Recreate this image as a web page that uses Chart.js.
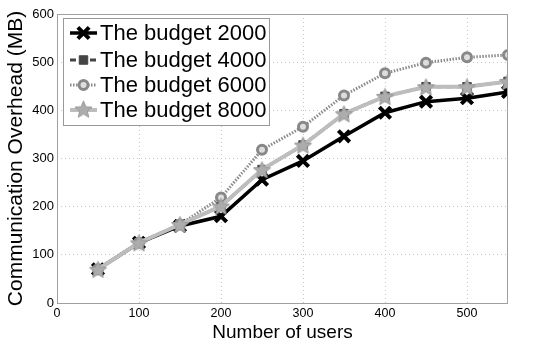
<!DOCTYPE html>
<html>
<head>
<meta charset="utf-8">
<script src="https://cdn.jsdelivr.net/npm/chart.js@4.4.0/dist/chart.umd.min.js"></script>
<style>
  html, body { margin: 0; padding: 0; background: #fff; }
  #wrap { width: 550px; height: 346px; }
</style>
</head>
<body>
<div id="wrap"><canvas id="myChart" width="550" height="346"></canvas></div>
<script>
var users = [50, 100, 150, 200, 250, 300, 350, 400, 450, 500, 550];
var budget2000 = [70, 125, 160, 180, 256, 295, 346, 395, 418, 425, 438];
var budget4000 = [70, 125, 163, 201, 277, 328, 393, 429, 449, 449, 460];
var budget6000 = [70, 125, 163, 219, 318, 366, 431, 477, 499, 510, 515];
var budget8000 = [70, 125, 163, 201, 277, 328, 393, 429, 449, 449, 460];
var seriesNames = ['The budget 2000', 'The budget 4000', 'The budget 6000', 'The budget 8000'];

// filled star marker
function makeStar(size, fill, edge) {
    var c = document.createElement('canvas');
    c.width = size; c.height = size;
    var g = c.getContext('2d');
    var cx = size / 2, cy = size / 2 + 1, R = size / 2 - 0.5, r = R * 0.45;
    g.beginPath();
    for (var i = 0; i < 10; i++) {
        var a = -Math.PI / 2 + i * Math.PI / 5;
        var rr = i % 2 === 0 ? R : r;
        g.lineTo(cx + rr * Math.cos(a), cy + rr * Math.sin(a));
    }
    g.closePath();
    g.fillStyle = fill;
    g.fill();
    g.lineWidth = 1;
    g.strokeStyle = edge;
    g.stroke();
    return c;
}
var star = makeStar(19, '#acacac', '#999999');

function pts(vals) {
    return vals.map(function (v, i) { return { x: users[i], y: v }; });
}

var datasets = [{
    label: seriesNames[0], data: pts(budget2000), order: 4,
    borderColor: '#000000', borderWidth: 3.5,
    pointStyle: 'crossRot', pointRadius: 8, pointBorderWidth: 4,
    pointBorderColor: '#000000', pointBackgroundColor: '#000000'
}, {
    label: seriesNames[1], data: pts(budget4000), order: 3,
    borderColor: '#444444', borderWidth: 3, borderDash: [6, 4],
    pointStyle: 'rect', pointRadius: 6, pointBorderWidth: 1,
    pointBorderColor: '#444444', pointBackgroundColor: '#444444'
}, {
    label: seriesNames[2], data: pts(budget6000), order: 2,
    borderColor: '#8a8a8a', borderWidth: 3, borderDash: [1.5, 1.5],
    pointStyle: 'circle', pointRadius: 4.5, pointBorderWidth: 3,
    pointBorderColor: '#888888', pointBackgroundColor: '#dddddd'
}, {
    label: seriesNames[3], data: pts(budget8000), order: 1,
    borderColor: '#bdbdbd', borderWidth: 4,
    pointStyle: star, pointRadius: 9,
    pointBorderColor: '#999999', pointBackgroundColor: '#acacac'
}];

var frameAndLegend = {
    id: 'frameAndLegend',
    afterDraw: function (chart) {
        var ctx = chart.ctx, a = chart.chartArea;
        ctx.save();
        ctx.strokeStyle = '#a0a0a0';
        ctx.lineWidth = 1;
        ctx.setLineDash([]);
        ctx.strokeRect(a.left + 0.5, a.top + 0.5, a.right - a.left - 1, a.bottom - a.top);

        // legend box
        var bx = 63, by = 18, bw = 206, bh = 107;
        ctx.fillStyle = '#ffffff';
        ctx.fillRect(bx, by, bw, bh);
        ctx.strokeStyle = '#999999';
        ctx.strokeRect(bx + 0.5, by + 0.5, bw, bh);

        var rows = [33, 60, 85, 110];
        ctx.font = '22px "Liberation Sans", Arial, sans-serif';
        ctx.textBaseline = 'middle';
        chart.data.datasets.forEach(function (ds, i) {
            var y = rows[i];
            ctx.save();
            ctx.strokeStyle = ds.borderColor;
            ctx.lineWidth = ds.borderWidth;
            ctx.setLineDash(ds.borderDash || []);
            ctx.beginPath();
            ctx.moveTo(70, y);
            ctx.lineTo(97, y);
            ctx.stroke();
            ctx.restore();
            if (ds.pointStyle instanceof HTMLCanvasElement) {
                ctx.drawImage(ds.pointStyle, 83.5 - ds.pointStyle.width / 2, y - ds.pointStyle.height / 2 - 1);
            } else {
                ctx.save();
                ctx.setLineDash([]);
                ctx.fillStyle = ds.pointBackgroundColor;
                ctx.strokeStyle = ds.pointBorderColor;
                ctx.lineWidth = ds.pointBorderWidth;
                Chart.helpers.drawPoint(ctx, {
                    pointStyle: ds.pointStyle, radius: ds.pointRadius,
                    rotation: 0, borderWidth: ds.pointBorderWidth
                }, 83.5, y);
                ctx.restore();
            }
            ctx.fillStyle = '#000000';
            ctx.fillText(ds.label, 100, y + 1);
        });
        ctx.restore();
    }
};

var ctx = document.getElementById('myChart').getContext('2d');
var myChart = new Chart(ctx, {
    type: 'line',
    data: { datasets: datasets },
    plugins: [frameAndLegend],
    options: {
        responsive: false,
        animation: false,
        layout: { padding: { top: 14, right: 42, bottom: 0, left: 0 } },
        plugins: {
            legend: { display: false },
            tooltip: { enabled: false }
        },
        scales: {
            x: {
                type: 'linear', min: 0, max: 550,
                afterFit: function (s) { s.height = 43; },
                ticks: {
                    stepSize: 100, includeBounds: false, padding: 3,
                    color: '#000000',
                    font: { size: 12.5, family: '"Liberation Sans", Arial, sans-serif' }
                },
                grid: { color: '#c4c4c4', drawTicks: false },
                border: { display: false, dash: [1, 3] },
                title: {
                    display: true, text: 'Number of users', color: '#000000',
                    padding: { top: 0, bottom: 2 },
                    font: { size: 19, family: '"Liberation Sans", Arial, sans-serif' }
                }
            },
            y: {
                min: 0, max: 600,
                afterFit: function (s) { s.width = 57; },
                ticks: {
                    stepSize: 100, padding: 3,
                    color: '#000000',
                    font: { size: 13, family: '"Liberation Sans", Arial, sans-serif' }
                },
                grid: { color: '#c4c4c4', drawTicks: false },
                border: { display: false, dash: [1, 3] },
                title: {
                    display: true, text: 'Communication Overhead (MB)', color: '#000000',
                    padding: { top: 4, bottom: 0 },
                    font: { size: 21, family: '"Liberation Sans", Arial, sans-serif' }
                }
            }
        }
    }
});
</script>
</body>
</html>
